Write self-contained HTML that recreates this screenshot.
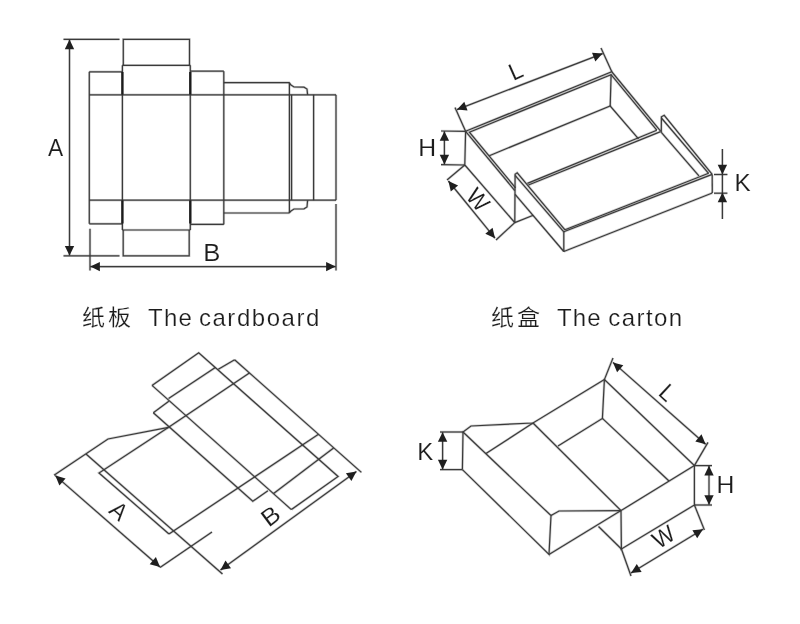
<!DOCTYPE html>
<html><head><meta charset="utf-8"><title>纸板 The cardboard / 纸盒 The carton</title>
<style>
html,body{margin:0;padding:0;background:#fff;}
svg{display:block;filter:grayscale(1)}
path{fill:none;stroke:#3a3a3a;stroke-width:1.2;stroke-linejoin:miter}
.hl path{stroke:#000;stroke-opacity:0.18;stroke-width:2.6}
.tk{stroke-width:2.3;stroke:#1c1c1c}
.ar{fill:#1f1f1f;stroke:none}
text{font-family:"Liberation Sans","Noto Sans CJK SC",sans-serif;fill:#1c1c1c;stroke:#fff;stroke-width:0.12px}
.cap{font-size:24px;letter-spacing:1.15px;stroke-width:0.2px}
.cj{font-size:23px;letter-spacing:3px;stroke-width:0.2px}
</style></head><body>
<svg width="800" height="624" viewBox="0 0 800 624">
<rect width="800" height="624" fill="#fff"/>
<g class="hl">
<path d="M123.3,65.3 L123.3,39.3 L189.5,39.3 L189.5,65.3" />
<path d="M122.4,65.3 L190.3,65.3" />
<path d="M123.2,230.0 L123.2,255.8 L189.2,255.8 L189.2,230.0" />
<path d="M122.4,230.0 L190.3,230.0" />
<path d="M89.3,71.8 L89.3,223.8" />
<path d="M122.4,65.3 L122.4,230.0" />
<path d="M190.3,65.3 L190.3,230.0" />
<path d="M223.8,71.2 L223.8,224.4" />
<path d="M89.3,71.8 L122.4,71.8" />
<path d="M89.3,223.8 L122.4,223.8" />
<path d="M190.3,71.2 L223.8,71.2" />
<path d="M190.3,224.4 L223.8,224.4" />
<path d="M89.3,94.8 L336.0,94.8" />
<path d="M89.3,200.2 L336.0,200.2" />
<path d="M223.8,82.6 L289.0,82.6 L291.0,85.0 L294.0,87.0 L304.0,87.2 L307.0,89.0 L307.6,94.8" />
<path d="M223.8,213.0 L289.0,213.0 L291.0,211.0 L294.0,209.0 L304.0,208.8 L307.0,207.0 L307.6,200.2" />
<path d="M313.6,94.8 L313.6,200.2" />
<path d="M336.0,94.8 L336.0,200.2" />
<path d="M63.5,39.3 L119.5,39.3" />
<path d="M63.5,255.8 L119.5,255.8" />
<path d="M69.5,39.6 L69.5,255.5" />
<path d="M90.0,228.8 L90.0,270.5" />
<path d="M336.0,204.0 L336.0,270.5" />
<path d="M90.3,266.6 L335.7,266.6" />
<path d="M465.6,131.3 L611.8,71.8 L660.6,131.2" />
<path d="M465.6,131.3 L514.8,190.6" />
<path d="M515.5,187.8 L469.4,132.2 L611.1,74.6 L656.8,130.2" />
<path d="M528.4,185.0 L660.6,131.6" />
<path d="M527.4,183.4 L656.8,130.2" />
<path d="M465.6,131.3 L464.8,165.0 L514.8,222.6" />
<path d="M489.3,155.7 L610.2,106.0 L638.5,138.8" />
<path d="M611.1,74.6 L610.2,106.0" />
<path d="M514.8,222.6 L515.1,174.2 L517.2,172.8 L565.0,229.8" />
<path d="M515.1,175.4 L563.8,231.8" />
<path d="M515.1,194.3 L563.8,251.5" />
<path d="M563.8,231.8 L563.8,251.5" />
<path d="M514.8,222.6 L533.3,215.2" />
<path d="M563.8,231.8 L712.2,174.4" />
<path d="M565.0,229.8 L708.6,173.3" />
<path d="M563.8,251.5 L712.3,193.0" />
<path d="M712.2,174.4 L712.3,193.0" />
<path d="M661.3,132.4 L661.4,116.8 L664.2,115.3 L712.2,174.4" />
<path d="M661.4,118.0 L708.6,173.3" />
<path d="M661.3,132.4 L698.9,175.9" />
<path d="M465.6,131.3 L455.0,107.6" />
<path d="M611.8,71.8 L601.0,48.0" />
<path d="M457.0,109.6 L602.6,53.6" />
<path d="M441.0,131.0 L465.6,131.3" />
<path d="M441.0,164.6 L464.8,165.0" />
<path d="M444.4,131.2 L444.4,164.4" />
<path d="M464.8,165.0 L447.0,180.0" />
<path d="M514.8,222.6 L496.0,240.0" />
<path d="M448.4,181.0 L495.0,238.2" />
<path d="M722.4,149.0 L722.4,219.0" />
<path d="M714.0,174.5 L727.4,174.5" />
<path d="M714.0,193.2 L727.4,193.2" />
<path d="M152.0,385.4 L198.7,352.8 L338.1,476.5 L291.4,509.6" />
<path d="M168.6,398.5 L215.3,367.6" />
<path d="M234.6,359.8 L218.3,369.3" />
<path d="M234.6,359.8 L361.4,472.4" />
<path d="M153.3,412.8 L168.8,401.3" />
<path d="M153.3,412.8 L252.8,501.3 L267.9,490.8" />
<path d="M168.6,427.3 L249.4,373.0" />
<path d="M152.0,385.4 L291.4,509.6" />
<path d="M318.5,434.3 L169.0,534.0" />
<path d="M333.6,447.9 L273.6,493.6" />
<path d="M168.6,427.3 L108.0,439.0 L54.0,475.2" />
<path d="M168.6,427.3 L99.0,473.0 L169.0,534.0" />
<path d="M86.0,454.0 L222.5,574.0" />
<path d="M212.0,532.0 L160.0,567.5" />
<path d="M55.3,475.6 L160.0,567.0" />
<path d="M220.5,570.0 L356.4,471.5" />
<path d="M462.4,469.6 L463.0,432.0 L471.0,426.0 L533.0,423.0 L604.4,379.6 L694.4,465.6 L694.4,505.0 L621.4,549.0 L621.0,510.6 L694.4,465.6" />
<path d="M533.0,423.0 L486.0,453.5" />
<path d="M463.0,432.0 L551.0,515.6 L549.0,554.4 L462.4,469.6" />
<path d="M551.0,515.6 L559.0,511.0 L621.0,510.6" />
<path d="M549.0,554.4 L621.0,510.6" />
<path d="M533.0,423.0 L621.0,510.6" />
<path d="M604.4,379.6 L602.4,418.4 L558.0,446.0" />
<path d="M602.4,418.4 L669.0,481.0" />
<path d="M598.5,526.5 L621.4,549.0" />
<path d="M440.0,432.0 L463.0,432.0" />
<path d="M440.0,469.6 L462.4,469.6" />
<path d="M442.6,432.2 L442.6,469.4" />
<path d="M604.4,379.6 L613.0,358.0" />
<path d="M694.4,465.6 L708.0,442.4" />
<path d="M613.0,362.4 L705.6,444.2" />
<path d="M694.4,465.6 L712.0,465.6" />
<path d="M694.4,505.0 L712.0,505.0" />
<path d="M709.0,465.8 L709.0,504.8" />
<path d="M621.4,549.0 L631.0,576.0" />
<path d="M694.4,505.0 L704.4,530.0" />
<path d="M631.0,573.0 L703.0,529.2" />
</g>
<g class="ln">
<path d="M123.3,65.3 L123.3,39.3 L189.5,39.3 L189.5,65.3" />
<path d="M122.4,65.3 L190.3,65.3" />
<path d="M123.2,230.0 L123.2,255.8 L189.2,255.8 L189.2,230.0" />
<path d="M122.4,230.0 L190.3,230.0" />
<path d="M89.3,71.8 L89.3,223.8" />
<path d="M122.4,65.3 L122.4,230.0" />
<path d="M190.3,65.3 L190.3,230.0" />
<path d="M223.8,71.2 L223.8,224.4" />
<path d="M89.3,71.8 L122.4,71.8" />
<path d="M89.3,223.8 L122.4,223.8" />
<path d="M190.3,71.2 L223.8,71.2" />
<path d="M190.3,224.4 L223.8,224.4" />
<path d="M89.3,94.8 L336.0,94.8" />
<path d="M89.3,200.2 L336.0,200.2" />
<path d="M122.4,72 L122.4,94.5 M122.4,200.5 L122.4,223.5" class="tk"/>
<path d="M190.3,72 L190.3,94.5 M190.3,200.5 L190.3,223.5" class="tk"/>
<path d="M223.8,82.6 L289.0,82.6 L291.0,85.0 L294.0,87.0 L304.0,87.2 L307.0,89.0 L307.6,94.8" />
<path d="M223.8,213.0 L289.0,213.0 L291.0,211.0 L294.0,209.0 L304.0,208.8 L307.0,207.0 L307.6,200.2" />
<path d="M289.4,82.6 L289.4,213 M291.6,94.8 L291.6,200.2" style="stroke-width:1.5"/>
<path d="M313.6,94.8 L313.6,200.2" />
<path d="M336.0,94.8 L336.0,200.2" />
<path d="M63.5,39.3 L119.5,39.3" />
<path d="M63.5,255.8 L119.5,255.8" />
<path d="M69.5,39.6 L69.5,255.5" />
<path d="M90.0,228.8 L90.0,270.5" />
<path d="M336.0,204.0 L336.0,270.5" />
<path d="M90.3,266.6 L335.7,266.6" />
<path d="M465.6,131.3 L611.8,71.8 L660.6,131.2" />
<path d="M465.6,131.3 L514.8,190.6" />
<path d="M515.5,187.8 L469.4,132.2 L611.1,74.6 L656.8,130.2" />
<path d="M528.4,185.0 L660.6,131.6" />
<path d="M527.4,183.4 L656.8,130.2" />
<path d="M465.6,131.3 L464.8,165.0 L514.8,222.6" />
<path d="M489.3,155.7 L610.2,106.0 L638.5,138.8" />
<path d="M611.1,74.6 L610.2,106.0" />
<path d="M514.8,222.6 L515.1,174.2 L517.2,172.8 L565.0,229.8" />
<path d="M515.1,175.4 L563.8,231.8" />
<path d="M515.1,194.3 L563.8,251.5" />
<path d="M563.8,231.8 L563.8,251.5" />
<path d="M514.8,222.6 L533.3,215.2" />
<path d="M563.8,231.8 L712.2,174.4" />
<path d="M565.0,229.8 L708.6,173.3" />
<path d="M563.8,251.5 L712.3,193.0" />
<path d="M712.2,174.4 L712.3,193.0" />
<path d="M661.3,132.4 L661.4,116.8 L664.2,115.3 L712.2,174.4" />
<path d="M661.4,118.0 L708.6,173.3" />
<path d="M661.3,132.4 L698.9,175.9" />
<path d="M465.6,131.3 L455.0,107.6" />
<path d="M611.8,71.8 L601.0,48.0" />
<path d="M457.0,109.6 L602.6,53.6" />
<path d="M441.0,131.0 L465.6,131.3" />
<path d="M441.0,164.6 L464.8,165.0" />
<path d="M444.4,131.2 L444.4,164.4" />
<path d="M464.8,165.0 L447.0,180.0" />
<path d="M514.8,222.6 L496.0,240.0" />
<path d="M448.4,181.0 L495.0,238.2" />
<path d="M722.4,149.0 L722.4,219.0" />
<path d="M714.0,174.5 L727.4,174.5" />
<path d="M714.0,193.2 L727.4,193.2" />
<path d="M152.0,385.4 L198.7,352.8 L338.1,476.5 L291.4,509.6" />
<path d="M168.6,398.5 L215.3,367.6" />
<path d="M234.6,359.8 L218.3,369.3" />
<path d="M234.6,359.8 L361.4,472.4" />
<path d="M153.3,412.8 L168.8,401.3" />
<path d="M153.3,412.8 L252.8,501.3 L267.9,490.8" />
<path d="M168.6,427.3 L249.4,373.0" />
<path d="M152.0,385.4 L291.4,509.6" />
<path d="M318.5,434.3 L169.0,534.0" />
<path d="M333.6,447.9 L273.6,493.6" />
<path d="M168.6,427.3 L108.0,439.0 L54.0,475.2" />
<path d="M168.6,427.3 L99.0,473.0 L169.0,534.0" />
<path d="M86.0,454.0 L222.5,574.0" />
<path d="M212.0,532.0 L160.0,567.5" />
<path d="M55.3,475.6 L160.0,567.0" />
<path d="M220.5,570.0 L356.4,471.5" />
<path d="M462.4,469.6 L463.0,432.0 L471.0,426.0 L533.0,423.0 L604.4,379.6 L694.4,465.6 L694.4,505.0 L621.4,549.0 L621.0,510.6 L694.4,465.6" />
<path d="M533.0,423.0 L486.0,453.5" />
<path d="M463.0,432.0 L551.0,515.6 L549.0,554.4 L462.4,469.6" />
<path d="M551.0,515.6 L559.0,511.0 L621.0,510.6" />
<path d="M549.0,554.4 L621.0,510.6" />
<path d="M533.0,423.0 L621.0,510.6" />
<path d="M604.4,379.6 L602.4,418.4 L558.0,446.0" />
<path d="M602.4,418.4 L669.0,481.0" />
<path d="M598.5,526.5 L621.4,549.0" />
<path d="M440.0,432.0 L463.0,432.0" />
<path d="M440.0,469.6 L462.4,469.6" />
<path d="M442.6,432.2 L442.6,469.4" />
<path d="M604.4,379.6 L613.0,358.0" />
<path d="M694.4,465.6 L708.0,442.4" />
<path d="M613.0,362.4 L705.6,444.2" />
<path d="M694.4,465.6 L712.0,465.6" />
<path d="M694.4,505.0 L712.0,505.0" />
<path d="M709.0,465.8 L709.0,504.8" />
<path d="M621.4,549.0 L631.0,576.0" />
<path d="M694.4,505.0 L704.4,530.0" />
<path d="M631.0,573.0 L703.0,529.2" />
</g>
<polygon class="ar" points="69.5,39.6 74.2,49.2 64.8,49.2"/>
<polygon class="ar" points="69.5,255.5 64.8,245.9 74.2,245.9"/>
<polygon class="ar" points="90.3,266.6 99.9,261.9 99.9,271.3"/>
<polygon class="ar" points="335.7,266.6 326.1,271.3 326.1,261.9"/>
<text class="lb" font-size="24" text-anchor="middle" transform="translate(55.5 147.3) rotate(0) scale(0.95 1)" x="0" y="8.59">A</text>
<text class="lb" font-size="24" text-anchor="middle" transform="translate(211.9 252.7) rotate(0) scale(1.07 1)" x="0" y="8.59">B</text>
<text class="cj" transform="translate(82 325.3) scale(1 0.93)">纸板</text>
<text class="cap" y="325.6"><tspan x="148.1">The</tspan> <tspan x="198.9" style="letter-spacing:1.55px">cardboard</tspan></text>
<text class="cj" transform="translate(491 325.3) scale(1 0.93)">纸盒</text>
<text class="cap" y="325.6"><tspan x="557">The</tspan> <tspan x="608.2" style="letter-spacing:1.45px">carton</tspan></text>
<polygon class="ar" points="457.0,109.6 464.3,101.8 467.6,110.5"/>
<polygon class="ar" points="602.6,53.6 595.3,61.4 592.0,52.7"/>
<text class="lb" font-size="24" text-anchor="middle" transform="translate(515.6 70.5) rotate(-24) scale(0.95 1)" x="0" y="8.59">L</text>
<polygon class="ar" points="444.4,131.2 449.1,140.8 439.7,140.8"/>
<polygon class="ar" points="444.4,164.4 439.7,154.8 449.1,154.8"/>
<text class="lb" font-size="24" text-anchor="middle" transform="translate(427.3 147.7) rotate(0) scale(1.03 1)" x="0" y="8.59">H</text>
<polygon class="ar" points="448.4,181.0 458.1,185.5 450.8,191.4"/>
<polygon class="ar" points="495.0,238.2 485.3,233.7 492.6,227.8"/>
<text class="lb" font-size="24" text-anchor="middle" transform="translate(478.3 199.5) rotate(49) scale(0.95 1)" x="0" y="8.59">W</text>
<polygon class="ar" points="722.4,174.4 717.7,164.8 727.1,164.8"/>
<polygon class="ar" points="722.4,192.6 727.1,202.2 717.7,202.2"/>
<text class="lb" font-size="24" text-anchor="middle" transform="translate(742.5 182.9) rotate(0) scale(1.01 1)" x="0" y="8.59">K</text>
<polygon class="ar" points="55.3,475.6 65.6,478.4 59.4,485.5"/>
<polygon class="ar" points="160.0,567.0 149.7,564.2 155.9,557.1"/>
<polygon class="ar" points="220.5,570.0 225.5,560.6 231.0,568.2"/>
<polygon class="ar" points="356.4,471.5 351.4,480.9 345.9,473.3"/>
<text class="lb" font-size="24" text-anchor="middle" transform="translate(119.1 510.6) rotate(41.3) scale(0.95 1)" x="0" y="8.59">A</text>
<text class="lb" font-size="24" text-anchor="middle" transform="translate(270.3 515.7) rotate(-37) scale(1.07 1)" x="0" y="8.59">B</text>
<polygon class="ar" points="442.6,432.2 447.3,441.8 437.9,441.8"/>
<polygon class="ar" points="442.6,469.4 437.9,459.8 447.3,459.8"/>
<text class="lb" font-size="24" text-anchor="middle" transform="translate(425.3 451.9) rotate(0) scale(1.0 1)" x="0" y="8.59">K</text>
<polygon class="ar" points="613.0,362.4 623.3,365.2 617.1,372.3"/>
<polygon class="ar" points="705.6,444.2 695.3,441.4 701.5,434.3"/>
<text class="lb" font-size="24" text-anchor="middle" transform="translate(667.8 392.3) rotate(43) scale(0.95 1)" x="0" y="8.59">L</text>
<polygon class="ar" points="709.0,465.8 713.7,475.4 704.3,475.4"/>
<polygon class="ar" points="709.0,504.8 704.3,495.2 713.7,495.2"/>
<text class="lb" font-size="24" text-anchor="middle" transform="translate(725.4 484.5) rotate(0) scale(1.03 1)" x="0" y="8.59">H</text>
<polygon class="ar" points="631.0,573.0 636.8,564.0 641.6,572.0"/>
<polygon class="ar" points="703.0,529.2 697.2,538.2 692.4,530.2"/>
<text class="lb" font-size="24" text-anchor="middle" transform="translate(663.3 536.6) rotate(-32) scale(0.95 1)" x="0" y="8.59">W</text>
</svg>
</body></html>
